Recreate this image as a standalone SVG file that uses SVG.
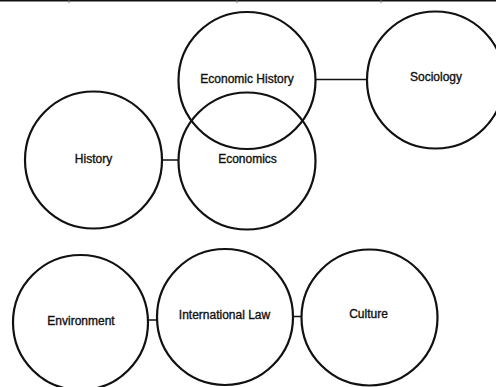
<svg xmlns="http://www.w3.org/2000/svg" width="496" height="387" viewBox="0 0 496 387">
<style>
.n circle{fill:none;stroke:#111;stroke-width:2.2}
.n text{font-family:"Liberation Sans",Arial,sans-serif;font-size:12px;fill:#111;stroke:#111;stroke-width:0.35;text-anchor:middle}
.c line{stroke:#111;stroke-width:1.5}
</style>
<rect width="496" height="387" fill="#fff"/>
<g id="frame">
<rect x="0" y="0" width="496" height="1.5" fill="#111"/>
<rect x="68.5" y="0" width="1" height="3" fill="#777"/>
<rect x="236.5" y="0" width="1" height="3" fill="#777"/>
<rect x="380.5" y="0" width="1" height="3" fill="#777"/>
</g>
<g id="connectors" class="c">
<line x1="162" y1="160" x2="178" y2="160"/>
<line x1="316" y1="79.5" x2="367.5" y2="79.5"/>
<line x1="148" y1="320" x2="157" y2="320"/>
<line x1="293" y1="316.5" x2="301.5" y2="316.5"/>
</g>
<g id="node-economic-history" class="n">
<circle cx="247" cy="80.5" r="68.5"/>
<text x="247" y="83">Economic History</text>
</g>
<g id="node-economics" class="n">
<circle cx="247" cy="161" r="68.5"/>
<text x="247.5" y="163">Economics</text>
</g>
<g id="node-sociology" class="n">
<circle cx="435.5" cy="80" r="68.5"/>
<text x="436" y="81">Sociology</text>
</g>
<g id="node-history" class="n">
<circle cx="93.5" cy="160" r="68.5"/>
<text x="93.5" y="163">History</text>
</g>
<g id="node-environment" class="n">
<circle cx="80.5" cy="322.5" r="67.5"/>
<text x="81" y="325">Environment</text>
</g>
<g id="node-international-law" class="n">
<circle cx="225" cy="317" r="68"/>
<text x="224.5" y="319">International Law</text>
</g>
<g id="node-culture" class="n">
<circle cx="369.5" cy="317.5" r="68"/>
<text x="368.5" y="318">Culture</text>
</g>
</svg>
